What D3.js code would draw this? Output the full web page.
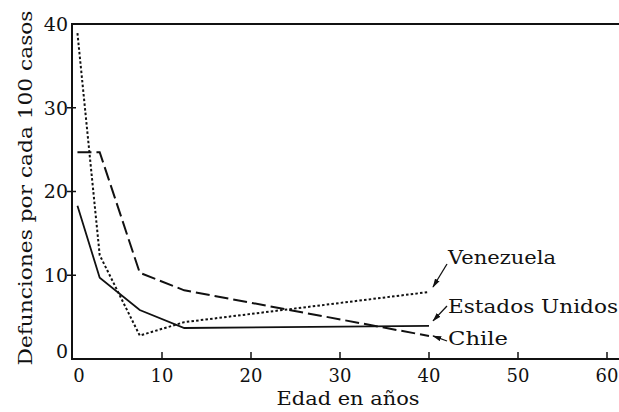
<!DOCTYPE html>
<html>
<head>
<meta charset="utf-8">
<script src="https://cdn.jsdelivr.net/npm/d3@7"></script>
<style>
  body { margin: 0; background: #fff; }
  svg { display: block; }
  text { font-family: "DejaVu Serif", serif; fill: #111; }
</style>
</head>
<body>
<div id="chart"></div>
<script>
// datos
const ages = [0.5, 3, 7.5, 12.5, 40];
const venezuela = [38.9, 12.4, 2.8, 4.4, 8.0];
const chile = [24.7, 24.7, 10.3, 8.2, 2.75];
const estadosUnidos = [18.3, 9.7, 5.85, 3.7, 3.95];
const xTicks = [0, 10, 20, 30, 40, 50, 60];
const yTicks = [0, 10, 20, 30, 40];

(function () {
    const width = 619, height = 412;
    const svg = d3.select("#chart").append("svg")
        .attr("width", width)
        .attr("height", height);

    const x = d3.scaleLinear().domain([0, 60]).range([73, 607]);
    const y = d3.scaleLinear().domain([0, 40]).range([359, 24]);
    const left = 72, top = 24, bottom = 359;

    // marco: eje izquierdo, linea superior y eje inferior
    svg.append("path")
        .attr("d", `M${width},${top}H${left}V${bottom}H${width}`)
        .attr("fill", "none")
        .attr("stroke", "#111")
        .attr("stroke-width", 2);

    // marcas del eje y
    svg.append("g").selectAll("line")
        .data(yTicks.filter(d => d > 0 && d < 40))
        .join("line")
        .attr("x1", left - 5).attr("x2", left + 4)
        .attr("y1", d => y(d)).attr("y2", d => y(d))
        .attr("stroke", "#111").attr("stroke-width", 1.5);

    svg.append("g").selectAll("text")
        .data(yTicks)
        .join("text")
        .attr("x", left - 4)
        .attr("y", d => d === 0 ? y(d) - 8 : y(d))
        .attr("dy", "0.36em")
        .attr("text-anchor", "end")
        .style("font-size", "19px")
        .text(d => d);

    // marcas del eje x
    svg.append("g").selectAll("line")
        .data(xTicks.filter(d => d > 0))
        .join("line")
        .attr("x1", d => x(d)).attr("x2", d => x(d))
        .attr("y1", bottom).attr("y2", bottom - 7)
        .attr("stroke", "#111").attr("stroke-width", 1.5);

    svg.append("g").selectAll("text")
        .data(xTicks)
        .join("text")
        .attr("x", d => d === 0 ? x(d) + 6 : x(d))
        .attr("y", bottom + 23)
        .attr("text-anchor", "middle")
        .style("font-size", "18px")
        .text(d => d);

    // titulos de ejes
    svg.append("text")
        .attr("x", 348).attr("y", 405)
        .attr("text-anchor", "middle")
        .attr("textLength", 143).attr("lengthAdjust", "spacingAndGlyphs")
        .style("font-size", "19px")
        .text("Edad en años");

    svg.append("text")
        .attr("transform", "translate(32,188) rotate(-90)")
        .attr("text-anchor", "middle")
        .attr("textLength", 355).attr("lengthAdjust", "spacingAndGlyphs")
        .style("font-size", "19px")
        .text("Defunciones por cada 100 casos");

    // series
    const series = [
        { name: "Venezuela", values: venezuela, dash: "2.5,2.2" },
        { name: "Chile", values: chile, dash: "14,5" },
        { name: "Estados Unidos", values: estadosUnidos, dash: null }
    ];

    const line = d3.line()
        .x((d, i) => x(ages[i]))
        .y(d => y(d));

    svg.append("g").selectAll("path")
        .data(series)
        .join("path")
        .attr("d", d => line(d.values))
        .attr("fill", "none")
        .attr("stroke", "#111")
        .attr("stroke-width", d => d.dash ? 2 : 1.8)
        .attr("stroke-dasharray", d => d.dash);

    // flechas y rotulos
    svg.append("defs").append("marker")
        .attr("id", "head")
        .attr("viewBox", "0 0 12 8")
        .attr("refX", 11).attr("refY", 4)
        .attr("markerWidth", 9).attr("markerHeight", 6)
        .attr("markerUnits", "userSpaceOnUse")
        .attr("orient", "auto")
        .append("path")
        .attr("d", "M0,0.5L12,4L0,7.5Z")
        .attr("fill", "#111");

    const last = ages.length - 1;
    const labels = [
        { text: "Venezuela", v: venezuela[last], tx: 448, ty: 264, len: 108, ax: 447, ay: 264 },
        { text: "Estados Unidos", v: estadosUnidos[last], tx: 448, ty: 313, len: 170, ax: 447, ay: 306 },
        { text: "Chile", v: chile[last], tx: 448, ty: 345, len: 60, ax: 447, ay: 341 }
    ];

    svg.append("g").selectAll("line")
        .data(labels)
        .join("line")
        .attr("x1", d => d.ax).attr("y1", d => d.ay)
        .attr("x2", d => x(40) + 4).attr("y2", d => y(d.v) - (d.text === "Chile" ? 0 : 5))
        .attr("stroke", "#111")
        .attr("stroke-width", 1.3)
        .attr("marker-end", "url(#head)");

    svg.append("g").selectAll("text")
        .data(labels)
        .join("text")
        .attr("x", d => d.tx).attr("y", d => d.ty)
        .attr("textLength", d => d.len).attr("lengthAdjust", "spacingAndGlyphs")
        .style("font-size", "19px")
        .text(d => d.text);
})();
</script>
</body>
</html>
